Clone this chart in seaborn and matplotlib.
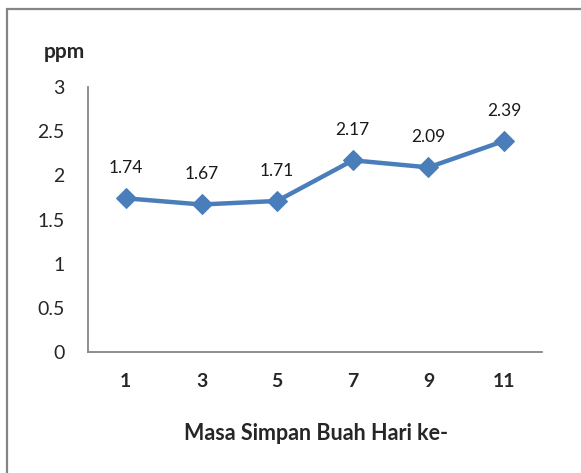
import seaborn as sns
import matplotlib.pyplot as plt
from matplotlib.patches import Rectangle
import pandas as pd

days = ['1', '3', '5', '7', '9', '11']
ppm = [1.74, 1.67, 1.71, 2.17, 2.09, 2.39]
y_ticks = [0, 0.5, 1, 1.5, 2, 2.5, 3]

sns.set_style('white')
plt.rcParams['font.family'] = ['Lato', 'DejaVu Sans']

df = pd.DataFrame({'day': days, 'ppm': ppm})
line_color = '#4a7ebb'
axis_color = '#868686'

fig = plt.figure(figsize=(5.81, 4.73), dpi=100)
ax = fig.add_axes([88 / 581, 1 - 352 / 473, 454 / 581, 265 / 473])

sns.lineplot(data=df, x='day', y='ppm', ax=ax, color=line_color, linewidth=3.2,
             marker='D', markersize=10, markeredgecolor=line_color, sort=False)

# data labels above each point
for i, v in enumerate(ppm):
    ax.annotate(f'{v:.2f}', (i, v), xytext=(0, 16), textcoords='offset points',
                ha='center', va='bottom', fontsize=12.5, color='#1a1a1a')

ax.set_xlim(-0.5, len(days) - 0.5)
ax.set_ylim(0, 3)
ax.set_yticks(y_ticks)
ax.set_yticklabels([f'{t:g}' for t in y_ticks], fontsize=14)
ax.set_xticks([i - 0.5 for i in range(len(days) + 1)])
ax.set_xticklabels([])
ax.tick_params(axis='x', direction='out', length=6, color=axis_color, width=1.2)
ax.tick_params(axis='y', direction='out', length=5, color=axis_color, width=1.2, pad=12)
for i, d in enumerate(days):
    ax.text(i, -0.33, d, ha='center', va='center', fontsize=14, fontweight='bold',
            transform=ax.transData)

ax.set_xlabel('')
ax.set_ylabel('')
for side in ['top', 'right']:
    ax.spines[side].set_visible(False)
for side in ['left', 'bottom']:
    ax.spines[side].set_color(axis_color)
    ax.spines[side].set_linewidth(1.3)

fig.text(64 / 581, 1 - 52 / 473, 'ppm', ha='center', va='center', fontsize=15,
         fontweight='bold')
fig.text(316 / 581, 1 - 433 / 473, 'Masa Simpan Buah Hari ke-', ha='center', va='center',
         fontsize=15.5, fontweight='bold')

# outer chart border (runs off the right and bottom edges)
fig.patches.append(Rectangle((7 / 581, -0.2), 1.5, 1 - 9 / 473 + 0.2, transform=fig.transFigure,
                             fill=False, edgecolor='#858585', linewidth=1.6))

plt.savefig('out.png', dpi=100)
